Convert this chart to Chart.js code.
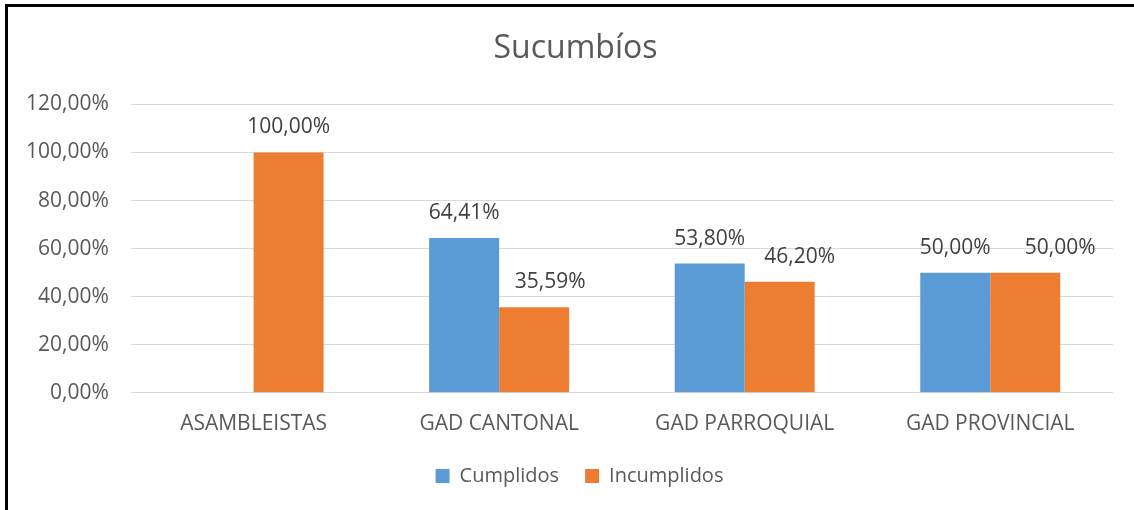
<!DOCTYPE html>
<html>
<head>
<meta charset="utf-8">
<script src="https://cdn.jsdelivr.net/npm/chart.js@4/dist/chart.umd.min.js"></script>
<style>
  html, body { margin: 0; padding: 0; background: #fff; }
  #wrap { position: relative; width: 1134px; height: 510px; overflow: hidden; }
  #frame { position: absolute; left: 5px; top: 4px; width: 1140px; height: 520px;
           border-top: 3px solid #000; border-left: 3px solid #000; pointer-events: none; }
  canvas { position: absolute; left: 0; top: 0; }
</style>
</head>
<body>
<div id="wrap">
  <canvas id="chartSucumbios" width="1134" height="510"></canvas>
  <div id="frame"></div>
</div>
<script>
var categories = ["ASAMBLEISTAS", "GAD CANTONAL", "GAD PARROQUIAL", "GAD PROVINCIAL"];
var cumplidos = [null, 64.41, 53.80, 50.00];
var incumplidos = [100.00, 35.59, 46.20, 50.00];
var yTicks = [0, 20, 40, 60, 80, 100, 120];

// desplazamiento horizontal de las etiquetas de Incumplidos (como en el original)
var labelNudge = [[0, 0, 0, 0], [0, 16, 20, 35]];

function pct(v) {
    return v.toFixed(2).replace('.', ',') + '%';
}

// etiquetas encima de las barras
var barLabels = {
    id: 'barLabels',
    afterLayout: function(chart) {
        // titulo y leyenda un poco a la derecha, como en Excel
        chart.titleBlock.left += 34;
        chart.legend.left += 42;
    },
    afterDatasetsDraw: function(chart) {
        var ctx = chart.ctx;
        ctx.save();
        ctx.font = '21px "Open Sans"';
        ctx.fillStyle = '#404040';
        ctx.textAlign = 'center';
        ctx.textBaseline = 'alphabetic';
        chart.data.datasets.forEach(function(ds, i) {
            var meta = chart.getDatasetMeta(i);
            meta.data.forEach(function(el, j) {
                if (ds.data[j] == null) return;
                ctx.fillText(pct(ds.data[j]), el.x + labelNudge[i][j], el.y - 19);
            });
        });
        ctx.restore();
    }
};

Chart.defaults.font.family = '"Open Sans"';
Chart.defaults.color = '#595959';

var chartSucumbios = new Chart(document.getElementById("chartSucumbios"), {
    type: 'bar',
    data: {
        labels: categories,
        datasets: [{
            label: "Cumplidos",
            backgroundColor: '#5B9BD5',
            data: cumplidos,
            categoryPercentage: 0.57,
            barPercentage: 1.0
        },
        {
            label: "Incumplidos",
            backgroundColor: '#ED7D31',
            data: incumplidos,
            categoryPercentage: 0.57,
            barPercentage: 1.0
        }]
    },
    options: {
        responsive: false,
        animation: false,
        layout: { padding: { left: 4, right: 21, top: 0, bottom: 14 } },
        plugins: {
            title: {
                display: true,
                text: 'Sucumbíos',
                color: '#595959',
                font: { size: 32, weight: 'normal' },
                padding: { top: 30, bottom: 36 }
            },
            legend: {
                position: 'bottom',
                labels: {
                    boxWidth: 14,
                    boxHeight: 14,
                    padding: 26,
                    color: '#595959',
                    font: { size: 20 }
                }
            },
            tooltip: { enabled: false }
        },
        scales: {
            x: {
                grid: { display: false },
                border: { display: false },
                ticks: { font: { size: 21 }, color: '#595959', padding: 11 },
                afterFit: function(scale) { scale.height -= 8; }
            },
            y: {
                min: 0,
                max: 120,
                afterBuildTicks: function(scale) {
                    scale.ticks = yTicks.map(function(v) { return { value: v }; });
                },
                grid: { color: '#D9D9D9', lineWidth: 1, drawTicks: false },
                border: { display: false },
                ticks: {
                    font: { size: 21 },
                    color: '#595959',
                    padding: 22,
                    callback: function(v) { return pct(v); }
                }
            }
        }
    },
    plugins: [barLabels]
});
</script>
</body>
</html>
